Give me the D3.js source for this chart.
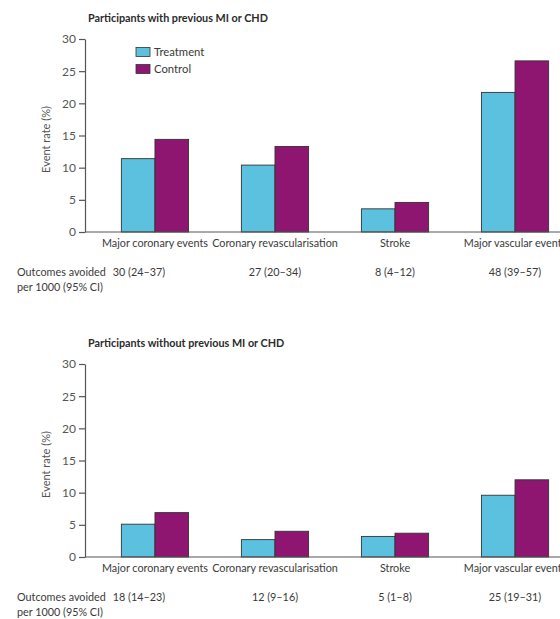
<!DOCTYPE html>
<html>
<head>
<meta charset="utf-8">
<script src="https://cdn.jsdelivr.net/npm/d3@7"></script>
<style>
  html, body { margin: 0; padding: 0; background: #fff; }
  svg { display: block; }
  text { font-family: Lato, "Liberation Sans", sans-serif; fill: #3a3a3a; }
</style>
</head>
<body>
<svg id="chart" width="560" height="619"></svg>
<script>
// Outcome categories shared by both panels
const categories = ["Major coronary events", "Coronary revascularisation", "Stroke", "Major vascular events"];
const seriesNames = ["Treatment", "Control"];
const seriesColors = ["#5cc1de", "#8e1670"];

// Event rates (%) — participants with previous MI or CHD
const withMiTreatment = [11.4, 10.4, 3.6, 21.7];
const withMiControl   = [14.4, 13.3, 4.6, 26.6];
const withMiAvoided   = ["30 (24–37)", "27 (20–34)", "8 (4–12)", "48 (39–57)"];

// Event rates (%) — participants without previous MI or CHD
const withoutMiTreatment = [5.1, 2.7, 3.2, 9.6];
const withoutMiControl   = [6.9, 4.0, 3.7, 12.0];
const withoutMiAvoided   = ["18 (14–23)", "12 (9–16)", "5 (1–8)", "25 (19–31)"];

const yTicks = [0, 5, 10, 15, 20, 25, 30];
const panelTitles = ["Participants with previous MI or CHD", "Participants without previous MI or CHD"];
const yAxisTitle = "Event rate (%)";
const avoidedHeading = ["Outcomes avoided", "per 1000 (95% CI)"];

const svg = d3.select("#chart");
const axisX = 85;
const labelSize = "10.8px";

const x = d3.scaleBand()
  .domain(categories)
  .range([axisX, 585])
  .paddingInner(0.44)
  .paddingOuter(0.303);

const xSeries = d3.scaleBand()
  .domain(seriesNames)
  .range([0, x.bandwidth()])
  .padding(0);

const color = d3.scaleOrdinal().domain(seriesNames).range(seriesColors);

function drawPanel(top, title, treatment, control, avoided, showLegend) {
  const g = svg.append("g").attr("transform", `translate(0,${top})`);
  const y = d3.scaleLinear().domain([0, 30]).range([232, 39]);

  // panel title
  g.append("text")
    .attr("x", 88).attr("y", 18)
    .attr("dy", "0.35em")
    .style("font-weight", "bold")
    .style("font-size", "10.8px")
    .style("fill", "#2b2b2b")
    .text(title);

  // y axis
  const yAxis = g.append("g")
    .attr("transform", `translate(${axisX},0)`)
    .call(d3.axisLeft(y).tickValues(yTicks).tickSize(6).tickSizeOuter(0).tickPadding(3));
  yAxis.select(".domain").attr("stroke", "#555").attr("stroke-width", 1.2);
  yAxis.selectAll(".tick line").attr("stroke", "#555").attr("stroke-width", 1.2);
  yAxis.selectAll(".tick text").style("font-size", "12px").style("fill", "#555").attr("font-family", null);

  g.append("text")
    .attr("transform", `translate(46,${(y(0) + y(30)) / 2 + 4}) rotate(-90)`)
    .attr("text-anchor", "middle")
    .attr("dy", "0.35em")
    .style("font-size", "11px")
    .style("fill", "#555")
    .text(yAxisTitle);

  // bars
  const rows = categories.map((c, i) => ({ cat: c, values: [
    { key: "Treatment", v: treatment[i] },
    { key: "Control", v: control[i] }
  ]}));

  const groups = g.selectAll("g.cat").data(rows).enter().append("g")
    .attr("class", "cat")
    .attr("transform", d => `translate(${x(d.cat)},0)`);

  groups.selectAll("rect").data(d => d.values).enter().append("rect")
    .attr("x", d => xSeries(d.key))
    .attr("y", d => y(d.v))
    .attr("width", xSeries.bandwidth())
    .attr("height", d => y(0) - y(d.v))
    .attr("fill", d => color(d.key))
    .attr("stroke", "#333")
    .attr("stroke-width", 0.9);

  // baseline
  g.append("line")
    .attr("x1", axisX).attr("x2", 585)
    .attr("y1", y(0)).attr("y2", y(0))
    .attr("stroke", "#555").attr("stroke-width", 1.2);

  // category labels
  g.selectAll("text.cat").data(categories).enter().append("text")
    .attr("class", "cat")
    .attr("x", d => x(d) + x.bandwidth() / 2)
    .attr("y", y(0) + 11)
    .attr("dy", "0.35em")
    .attr("text-anchor", "middle")
    .style("font-size", labelSize)
    .text(d => d);

  // outcomes avoided row
  const head = g.append("text")
    .attr("x", 17).attr("y", 272)
    .style("font-size", labelSize);
  head.selectAll("tspan").data(avoidedHeading).enter().append("tspan")
    .attr("x", 17)
    .attr("y", (d, i) => 272 + i * 15)
    .attr("dy", "0.35em")
    .text(d => d);

  const headRight = 17 + head.select("tspan").node().getComputedTextLength();

  g.selectAll("text.avoided").data(avoided).enter().append("text")
    .attr("class", "avoided")
    .attr("x", (d, i) => i === 0 ? headRight + 7 : x(categories[i]) + x.bandwidth() / 2)
    .attr("y", 272)
    .attr("dy", "0.35em")
    .attr("text-anchor", (d, i) => i === 0 ? "start" : "middle")
    .style("font-size", labelSize)
    .text(d => d);

  if (showLegend) {
    const lg = g.append("g").attr("transform", "translate(136,47.5)");
    const item = lg.selectAll("g").data(seriesNames).enter().append("g")
      .attr("transform", (d, i) => `translate(0,${i * 17})`);
    item.append("rect")
      .attr("width", 14).attr("height", 9)
      .attr("fill", d => color(d))
      .attr("stroke", "#333").attr("stroke-width", 0.8);
    item.append("text")
      .attr("x", 18).attr("y", 4.5)
      .attr("dy", "0.35em")
      .style("font-size", "11.3px")
      .text(d => d);
  }
}

drawPanel(0, panelTitles[0], withMiTreatment, withMiControl, withMiAvoided, true);
drawPanel(325, panelTitles[1], withoutMiTreatment, withoutMiControl, withoutMiAvoided, false);
</script>
</body>
</html>
